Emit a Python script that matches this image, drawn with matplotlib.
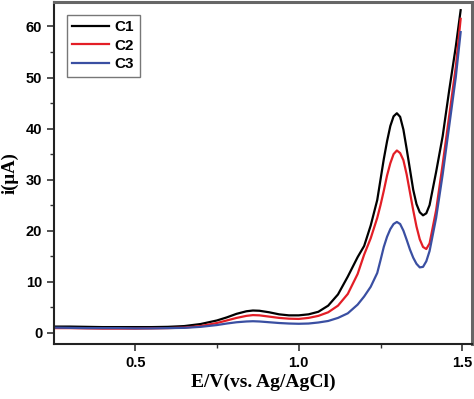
import matplotlib
matplotlib.use("Agg")
from matplotlib import pyplot as plt
from matplotlib.ticker import MultipleLocator

# potential (V vs Ag/AgCl) and currents (uA)
potential = [0.25, 0.30, 0.35, 0.40, 0.45, 0.50, 0.55, 0.60, 0.65, 0.70,
             0.75, 0.78, 0.81, 0.84, 0.86, 0.88, 0.91, 0.94, 0.97, 1.00,
             1.03, 1.06, 1.09, 1.12, 1.15, 1.18, 1.20, 1.22, 1.24, 1.25,
             1.26, 1.27, 1.28, 1.29, 1.30, 1.31, 1.32, 1.33, 1.34, 1.35,
             1.36, 1.37, 1.38, 1.39, 1.40, 1.42, 1.44, 1.46, 1.48, 1.495]

c1 = [1.2, 1.2, 1.15, 1.1, 1.1, 1.1, 1.1, 1.15, 1.3, 1.7,
      2.4, 3.0, 3.7, 4.2, 4.35, 4.3, 4.0, 3.6, 3.4, 3.4,
      3.6, 4.1, 5.3, 7.5, 11.0, 14.8, 17.0, 21.0, 26.0, 30.0,
      34.0, 37.5, 40.5, 42.4, 43.0, 42.3, 39.8, 36.0, 32.0, 28.0,
      25.2, 23.6, 23.0, 23.4, 25.0, 31.5, 38.5, 47.5, 56.0, 63.2]

c2 = [0.9, 0.9, 0.85, 0.8, 0.8, 0.8, 0.85, 0.9, 1.0, 1.3,
      1.9, 2.4, 2.9, 3.3, 3.45, 3.4, 3.15, 2.9, 2.75, 2.7,
      2.9, 3.3, 4.0, 5.3, 7.6, 11.5, 15.3, 18.5, 22.5, 25.0,
      27.8, 30.8, 33.2, 35.0, 35.7, 35.2, 33.8, 31.0, 27.5, 24.0,
      20.8, 18.3, 16.8, 16.4, 17.5, 24.0, 33.0, 42.5, 52.0, 61.5]

c3 = [1.0, 0.95, 0.9, 0.9, 0.9, 0.85, 0.85, 0.9, 0.95, 1.15,
      1.5, 1.8, 2.05, 2.2, 2.25, 2.2, 2.05, 1.9, 1.8, 1.75,
      1.8, 2.0, 2.3, 2.9, 3.8, 5.5, 7.1, 9.0, 11.7, 14.2,
      16.8, 18.8, 20.3, 21.3, 21.7, 21.3, 20.0, 18.2, 16.3, 14.7,
      13.5, 12.8, 12.9, 14.0, 16.0, 22.5, 31.0, 40.5, 50.0, 58.9]

labels = ["C1", "C2", "C3"]
colors = ["#000000", "#e31e26", "#3a4fa2"]

fig = plt.figure(figsize=(4.74, 3.99), dpi=100)
ax = fig.add_axes([0.114, 0.138, 0.882, 0.857])

for cur, lab, col in zip([c1, c2, c3], labels, colors):
    ax.plot(potential, cur, color=col, lw=1.6, label=lab)

ax.set_xlim(0.252, 1.53)
ax.set_ylim(-2.2, 64.8)
ax.xaxis.set_major_locator(MultipleLocator(0.5))
ax.xaxis.set_minor_locator(MultipleLocator(0.25))
ax.yaxis.set_major_locator(MultipleLocator(10))
ax.yaxis.set_minor_locator(MultipleLocator(5))
ax.tick_params(which="major", direction="out", length=5, width=1.2, color="#333333")
ax.tick_params(which="minor", direction="out", length=3, width=1.0, color="#333333")

for lbl in ax.get_xticklabels() + ax.get_yticklabels():
    lbl.set_fontfamily("Liberation Sans")
    lbl.set_fontweight("bold")
    lbl.set_fontsize(10.5)

for side in ["left", "bottom"]:
    ax.spines[side].set_color("#222222")
    ax.spines[side].set_linewidth(1.5)
for side in ["top", "right"]:
    ax.spines[side].set_color("#666666")
    ax.spines[side].set_linewidth(2.2)

ax.set_xlabel("E/V(vs. Ag/AgCl)", family="Liberation Serif", fontweight="bold",
              fontsize=14, labelpad=3)
ax.set_ylabel("i(\u03bcA)", family="Liberation Serif", fontweight="bold",
              fontsize=13.5, labelpad=5)

leg = ax.legend(loc="upper left", bbox_to_anchor=(0.012, 0.985), frameon=True,
                fancybox=False, handlelength=2.4, handletextpad=0.4,
                borderpad=0.35, labelspacing=0.3,
                prop={"family": "Liberation Sans", "weight": "bold", "size": 11})
leg.get_frame().set_edgecolor("#555555")
leg.get_frame().set_linewidth(1.0)

fig.savefig("out.png", dpi=100)
